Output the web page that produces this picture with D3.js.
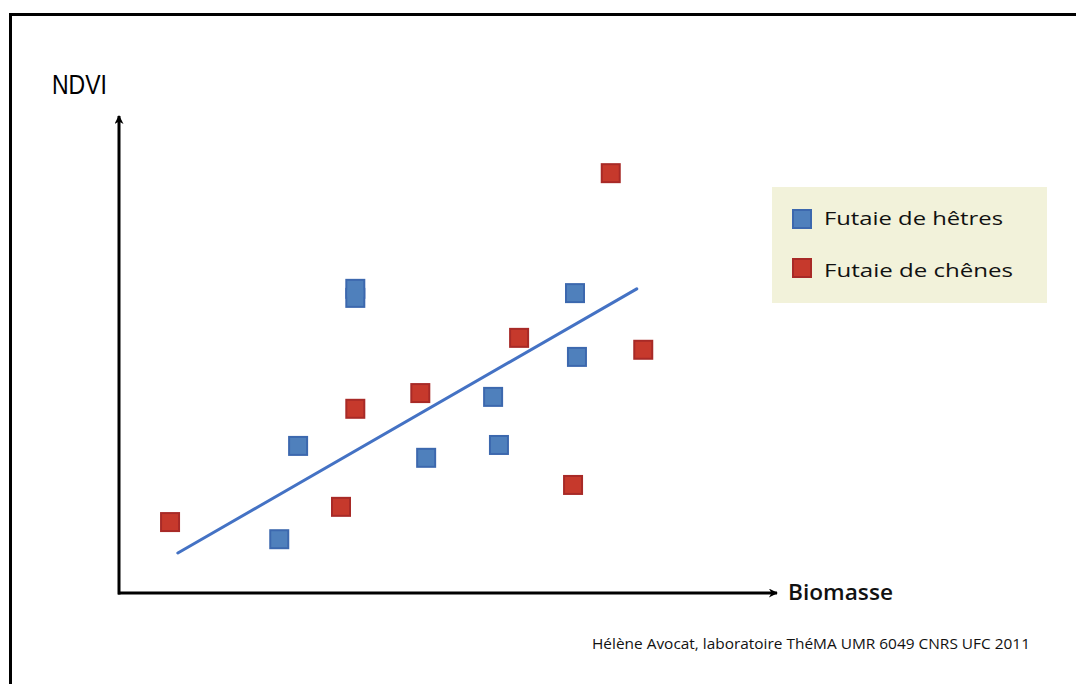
<!DOCTYPE html>
<html><head><meta charset="utf-8">
<script src="https://cdn.jsdelivr.net/npm/d3@7"></script>
<style>html,body{margin:0;padding:0;background:#fff;}svg{display:block;}</style>
</head><body>
<svg id="chart" width="1076" height="684"></svg>
<script>
// Data (arbitrary units: biomass 0-100, NDVI 0-100)
const seriesNames = ["Futaie de hêtres", "Futaie de chênes"];
const hetresX = [36.2, 36.2, 70.0, 70.3, 57.4, 27.4, 47.1, 58.3, 24.5];
const hetresY = [63.9, 62.0, 63.0, 49.6, 41.2, 30.9, 28.4, 31.1, 11.3];
const chenesX = [75.5, 61.4, 80.5, 46.2, 36.2, 69.7, 34.0, 7.7];
const chenesY = [88.2, 53.6, 51.1, 42.0, 38.7, 22.7, 18.1, 14.9];
const trendX = [8.9, 79.5];
const trendY = [8.4, 63.9];
const xLabel = "Biomasse";
const yLabel = "NDVI";
const credit = "Hélène Avocat, laboratoire ThéMA UMR 6049 CNRS UFC 2011";

const svg = d3.select("#chart");
const x = d3.scaleLinear().domain([0, 100]).range([120, 770]);
const y = d3.scaleLinear().domain([0, 100]).range([593, 117]);

// frame
svg.append("line").attr("x1", 9).attr("x2", 1076).attr("y1", 14.5).attr("y2", 14.5)
  .attr("stroke", "#000").attr("stroke-width", 3);
svg.append("line").attr("x1", 10.5).attr("x2", 10.5).attr("y1", 13).attr("y2", 684)
  .attr("stroke", "#000").attr("stroke-width", 3);

// arrow markers
const defs = svg.append("defs");
defs.append("marker").attr("id", "arr").attr("viewBox", "0 0 10 10")
  .attr("refX", 9).attr("refY", 5).attr("markerWidth", 10).attr("markerHeight", 9)
  .attr("markerUnits", "userSpaceOnUse").attr("orient", "auto")
  .append("path").attr("d", "M0,0 L10,5 L0,10 L3,5 Z").attr("fill", "#000");

// axes (no ticks; drawn as arrowed lines)
const xAxis = svg.append("g").attr("transform", "translate(0,593)")
  .call(d3.axisBottom(x).tickValues([]).tickSizeOuter(0));
xAxis.select(".domain").remove();
svg.append("line").attr("x1", 118).attr("x2", 777).attr("y1", 593).attr("y2", 593)
  .attr("stroke", "#000").attr("stroke-width", 3).attr("marker-end", "url(#arr)");
const yAxis = svg.append("g").attr("transform", "translate(119,0)")
  .call(d3.axisLeft(y).tickValues([]).tickSizeOuter(0));
yAxis.select(".domain").remove();
svg.append("line").attr("x1", 119).attr("x2", 119).attr("y1", 594.5).attr("y2", 116)
  .attr("stroke", "#000").attr("stroke-width", 3).attr("marker-end", "url(#arr)");

// trend line
svg.append("line")
  .attr("x1", x(trendX[0])).attr("y1", y(trendY[0]))
  .attr("x2", x(trendX[1])).attr("y2", y(trendY[1]))
  .attr("stroke", "#4472c4").attr("stroke-width", 3).attr("stroke-linecap", "round");

// points: outer (border colour) then inner fill so overlapping squares merge
const S = 20;
function drawSeries(xs, ys, fill, stroke) {
  const data = xs.map((v, i) => ({ x: v, y: ys[i] }));
  const g = svg.append("g");
  g.selectAll("rect.o").data(data).join("rect").attr("class", "o")
    .attr("x", d => x(d.x) - S / 2).attr("y", d => y(d.y) - S / 2)
    .attr("width", S).attr("height", S).attr("fill", stroke);
  g.selectAll("rect.i").data(data).join("rect").attr("class", "i")
    .attr("x", d => x(d.x) - S / 2 + 2).attr("y", d => y(d.y) - S / 2 + 2)
    .attr("width", S - 4).attr("height", S - 4).attr("fill", fill);
}
drawSeries(hetresX, hetresY, "#4f80bc", "#3c68ae");
drawSeries(chenesX, chenesY, "#c6392c", "#a82a27");

// labels
svg.append("text").attr("x", 52).attr("y", 94).text(yLabel)
  .attr("font-family", "Liberation Sans, Arial, sans-serif").attr("font-size", 27)
  .attr("textLength", 55).attr("lengthAdjust", "spacingAndGlyphs").attr("fill", "#000");
svg.append("text").attr("x", 788).attr("y", 600).text(xLabel)
  .attr("font-family", "Open Sans, sans-serif").attr("font-size", 21).attr("font-weight", 600)
  .attr("textLength", 105).attr("lengthAdjust", "spacingAndGlyphs").attr("fill", "#111");
svg.append("text").attr("x", 592).attr("y", 649).text(credit)
  .attr("font-family", "Open Sans, sans-serif").attr("font-size", 15)
  .attr("textLength", 438).attr("lengthAdjust", "spacingAndGlyphs").attr("fill", "#111");

// legend
const lg = svg.append("g");
lg.append("rect").attr("x", 772).attr("y", 187).attr("width", 275).attr("height", 116).attr("fill", "#f2f2da");
const legItems = [
  { name: seriesNames[0], fill: "#4f80bc", stroke: "#3c68ae", ty: 225, sy: 210, w: 179 },
  { name: seriesNames[1], fill: "#c6392c", stroke: "#a82a27", ty: 277, sy: 259, w: 189 }
];
legItems.forEach(it => {
  lg.append("rect").attr("x", 793).attr("y", it.sy).attr("width", 18).attr("height", 18)
    .attr("fill", it.fill).attr("stroke", it.stroke).attr("stroke-width", 2);
  lg.append("text").attr("x", 824).attr("y", it.ty).text(it.name)
    .attr("font-family", "Open Sans, sans-serif").attr("font-size", 19)
    .attr("textLength", it.w).attr("lengthAdjust", "spacingAndGlyphs").attr("fill", "#111");
});
</script>
</body></html>
